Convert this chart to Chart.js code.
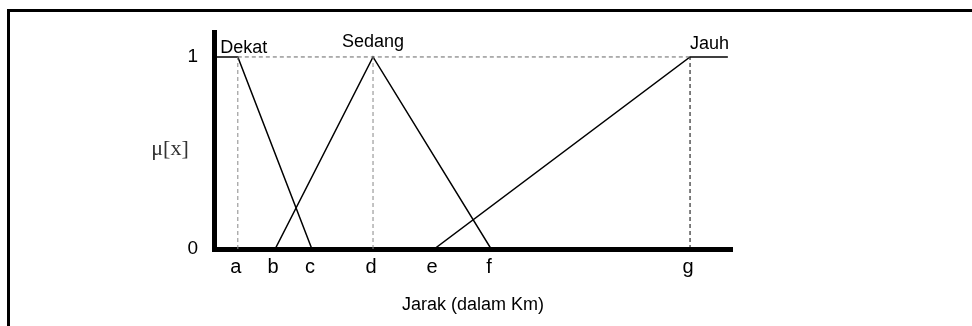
<!DOCTYPE html>
<html>
<head>
<meta charset="utf-8">
<script src="https://cdn.jsdelivr.net/npm/chart.js@4"></script>
<style>
html,body{margin:0;padding:0;background:#fff;}
#wrap{position:relative;width:972px;height:326px;overflow:hidden;}
#frame{position:absolute;left:7px;top:9px;width:980px;height:340px;border-top:3px solid #000;border-left:3px solid #000;pointer-events:none;}
canvas{position:absolute;left:0;top:0;}
</style>
</head>
<body>
<div id="wrap">
<canvas id="c" width="972" height="326"></canvas>
<div id="frame"></div>
</div>
<script>
// ---- data ----
const xTickLabels = ['a','b','c','d','e','f','g'];
const xTickValues = [4.6, 11.8, 18.9, 30.7, 42.5, 53.5, 91.9];
const yTickValues = [0, 1];
const seriesNames = ['Dekat','Sedang','Jauh'];
const dekatX = [0, 4.6, 18.9];
const dekatY = [1, 1, 0];
const sedangX = [11.8, 30.7, 53.5];
const sedangY = [0, 1, 0];
const jauhX = [42.5, 91.9, 99.2];
const jauhY = [0, 1, 1];
const guideHX = [4.6, 91.9];
const guideHY = [1, 1];
const guideVX = [4.6, 30.7, 91.9];
const xMin = 0, xMax = 100, yMin = 0, yMax = 1.13;
const xTitle = 'Jarak (dalam Km)';
const yTitle = 'μ[x]';
const nameAnchorX = [1.2, 30.7, 91.9];
const nameAnchorY = [1, 1, 1];

function pts(xs, ys){ return xs.map((x,i)=>({x:x,y:ys[i]})); }

const datasets = [];
// dashed guides
datasets.push({data: pts(guideHX, guideHY), borderColor:'#666', borderWidth:1, borderDash:[4,3]});
guideVX.forEach((gx, i) => {
  datasets.push({data: pts([gx, gx], [0, 1]), borderColor: i === 2 ? '#000' : '#888', borderWidth:1, borderDash:[4,3]});
});
// membership functions
[[dekatX,dekatY],[sedangX,sedangY],[jauhX,jauhY]].forEach(([xs,ys]) => {
  datasets.push({data: pts(xs, ys), borderColor:'#000', borderWidth:1.5});
});

const labelPlugin = {
  id:'labels',
  afterDraw(chart){
    const ctx = chart.ctx, xs = chart.scales.x, ys = chart.scales.y;
    ctx.save();
    ctx.fillStyle = '#000';
    ctx.font = '18px "Liberation Sans", Arial, sans-serif';
    ctx.textBaseline = 'alphabetic';
    const aligns = ['left','center','left'];
    const dy = [-4, -10, -8];
    seriesNames.forEach((n,i) => {
      ctx.textAlign = aligns[i];
      ctx.fillText(n, xs.getPixelForValue(nameAnchorX[i]), ys.getPixelForValue(nameAnchorY[i]) + dy[i]);
    });
    ctx.font = '22px "Liberation Serif", "Times New Roman", serif';
    ctx.fillStyle = '#333';
    ctx.textAlign = 'center';
    ctx.textBaseline = 'middle';
    ctx.fillText(yTitle, 170, (chart.chartArea.top + chart.chartArea.bottom) / 2 + 9);
    ctx.restore();
  }
};

new Chart(document.getElementById('c'), {
  type:'line',
  data:{datasets},
  options:{
    responsive:false,
    animation:false,
    events:[],
    parsing:true,
    elements:{point:{radius:0}, line:{tension:0}},
    plugins:{legend:{display:false}, tooltip:{enabled:false}},
    layout:{padding:{left:174, right:240, top:32, bottom:10}},
    scales:{
      x:{
        type:'linear', min:xMin, max:xMax,
        afterFit(s){ s.height = 67; },
        afterBuildTicks(s){ s.ticks = xTickValues.map(v=>({value:v})); },
        grid:{display:false, drawTicks:false},
        border:{display:true, color:'#000', width:5},
        ticks:{autoSkip:false, maxRotation:0, padding:6, labelOffset:-2, color:'#000',
          font:{family:'"Liberation Sans", Arial, sans-serif', size:20},
          callback:(v,i)=>xTickLabels[i]},
        title:{display:true, text:xTitle, color:'#000', padding:{top:4,bottom:0},
          font:{family:'"Liberation Sans", Arial, sans-serif', size:18}}
      },
      y:{
        type:'linear', min:yMin, max:yMax,
        afterFit(s){ s.width = 40; },
        afterBuildTicks(s){ s.ticks = yTickValues.map(v=>({value:v})); },
        grid:{display:false, drawTicks:false},
        border:{display:true, color:'#000', width:5},
        ticks:{padding:16, color:'#000',
          font:{family:'"Liberation Sans", Arial, sans-serif', size:19},
          callback:(v)=>String(v)}
      }
    }
  },
  plugins:[labelPlugin]
});
</script>
</body>
</html>
